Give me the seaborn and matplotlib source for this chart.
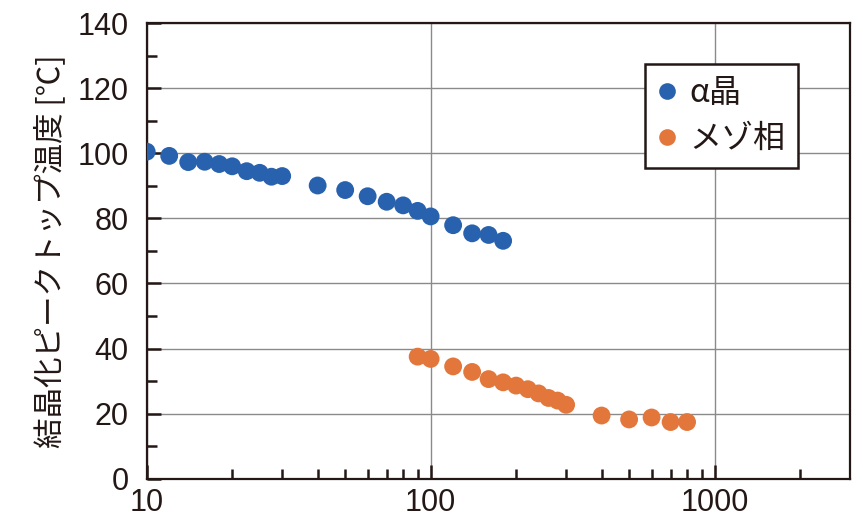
import matplotlib
matplotlib.use("Agg")
import matplotlib.pyplot as plt
import seaborn as sns
import pandas as pd
from matplotlib.ticker import FixedLocator, NullFormatter

# --- data ---
alpha_x = [10, 12, 14, 16, 18, 20, 22.5, 25, 27.5, 30, 40, 50, 60, 70, 80, 90, 100, 120, 140, 160, 180]
alpha_y = [100.5, 99.2, 97.3, 97.4, 96.7, 96.0, 94.5, 94.0, 92.8, 93.0, 90.1, 88.7, 86.8, 85.1, 84.0, 82.3, 80.6, 77.9, 75.4, 74.9, 73.1]
meso_x = [90, 100, 120, 140, 160, 180, 200, 220, 240, 260, 280, 300, 400, 500, 600, 700, 800]
meso_y = [37.5, 36.8, 34.5, 32.8, 30.6, 29.6, 28.6, 27.5, 26.2, 24.8, 24.0, 22.7, 19.4, 18.2, 18.8, 17.4, 17.4]
series_names = ["α晶", "メゾ相"]
colors = ["#2862AE", "#E3773B"]
y_ticks = [0, 20, 40, 60, 80, 100, 120, 140]
x_ticks = [10, 100, 1000]
y_label = "結晶化ピークトップ温度 [℃]"

df = pd.DataFrame({
    "x": alpha_x + meso_x,
    "y": alpha_y + meso_y,
    "phase": [series_names[0]] * len(alpha_x) + [series_names[1]] * len(meso_x),
})

sns.set_theme(style="white")
plt.rcParams["font.family"] = ["Liberation Sans", "Noto Sans CJK JP", "DejaVu Sans"]

fig = plt.figure(figsize=(8.63, 5.26), dpi=100)
ax = fig.add_axes([0.170, 0.090, 0.815, 0.866])

sns.scatterplot(data=df, x="x", y="y", hue="phase", palette=colors, s=165,
                edgecolor="none", linewidth=0, ax=ax, legend=False, zorder=3)

ax.set_xscale("log")
ax.set_xlim(10, 3000)
ax.set_ylim(0, 140)

ax.xaxis.set_major_locator(FixedLocator(x_ticks))
ax.set_xticklabels([str(t) for t in x_ticks])
ax.xaxis.set_minor_locator(FixedLocator([20, 30, 40, 50, 60, 70, 80, 90,
                                         200, 300, 400, 500, 600, 700, 800, 900, 2000]))
ax.xaxis.set_minor_formatter(NullFormatter())
ax.yaxis.set_major_locator(FixedLocator(y_ticks))
ax.set_yticklabels([str(t) for t in y_ticks])
ax.yaxis.set_minor_locator(FixedLocator([10, 30, 50, 70, 90, 110, 130]))

ax.grid(True, which="major", color="#8a8a8a", linewidth=1.0)
ax.set_axisbelow(True)

for s in ax.spines.values():
    s.set_color("#231815")
    s.set_linewidth(1.6)

ax.tick_params(which="major", direction="in", length=10, width=1.8, color="#231815",
               labelsize=22, labelcolor="#231815", top=False, right=False,
               bottom=True, left=True)
ax.tick_params(axis="y", which="major", pad=13)
ax.tick_params(axis="x", which="major", pad=7)
ax.tick_params(which="minor", direction="in", length=7, width=1.8, color="#231815",
               top=False, right=False, bottom=True, left=True)

ax.set_xlabel("")
ax.set_ylabel(y_label, fontsize=22, color="#231815",
              family=["Noto Sans CJK JP", "DejaVu Sans"], labelpad=8)

handles = [plt.Line2D([], [], marker="o", linestyle="none", markersize=12,
                      markerfacecolor=c, markeredgecolor="none") for c in colors]
leg = ax.legend(handles, series_names, loc="upper right", bbox_to_anchor=(0.926, 0.91),
                frameon=True, fancybox=False, handletextpad=0.42, handlelength=0.55,
                borderpad=0.4, labelspacing=0.45, borderaxespad=0,
                prop={"family": ["Noto Sans CJK JP", "DejaVu Sans"], "size": 23})
leg.get_frame().set_edgecolor("#231815")
leg.get_frame().set_linewidth(1.8)
leg.get_frame().set_facecolor("white")
leg.get_frame().set_alpha(1)
for t in leg.get_texts():
    t.set_color("#231815")

fig.savefig("out.png", dpi=100)
